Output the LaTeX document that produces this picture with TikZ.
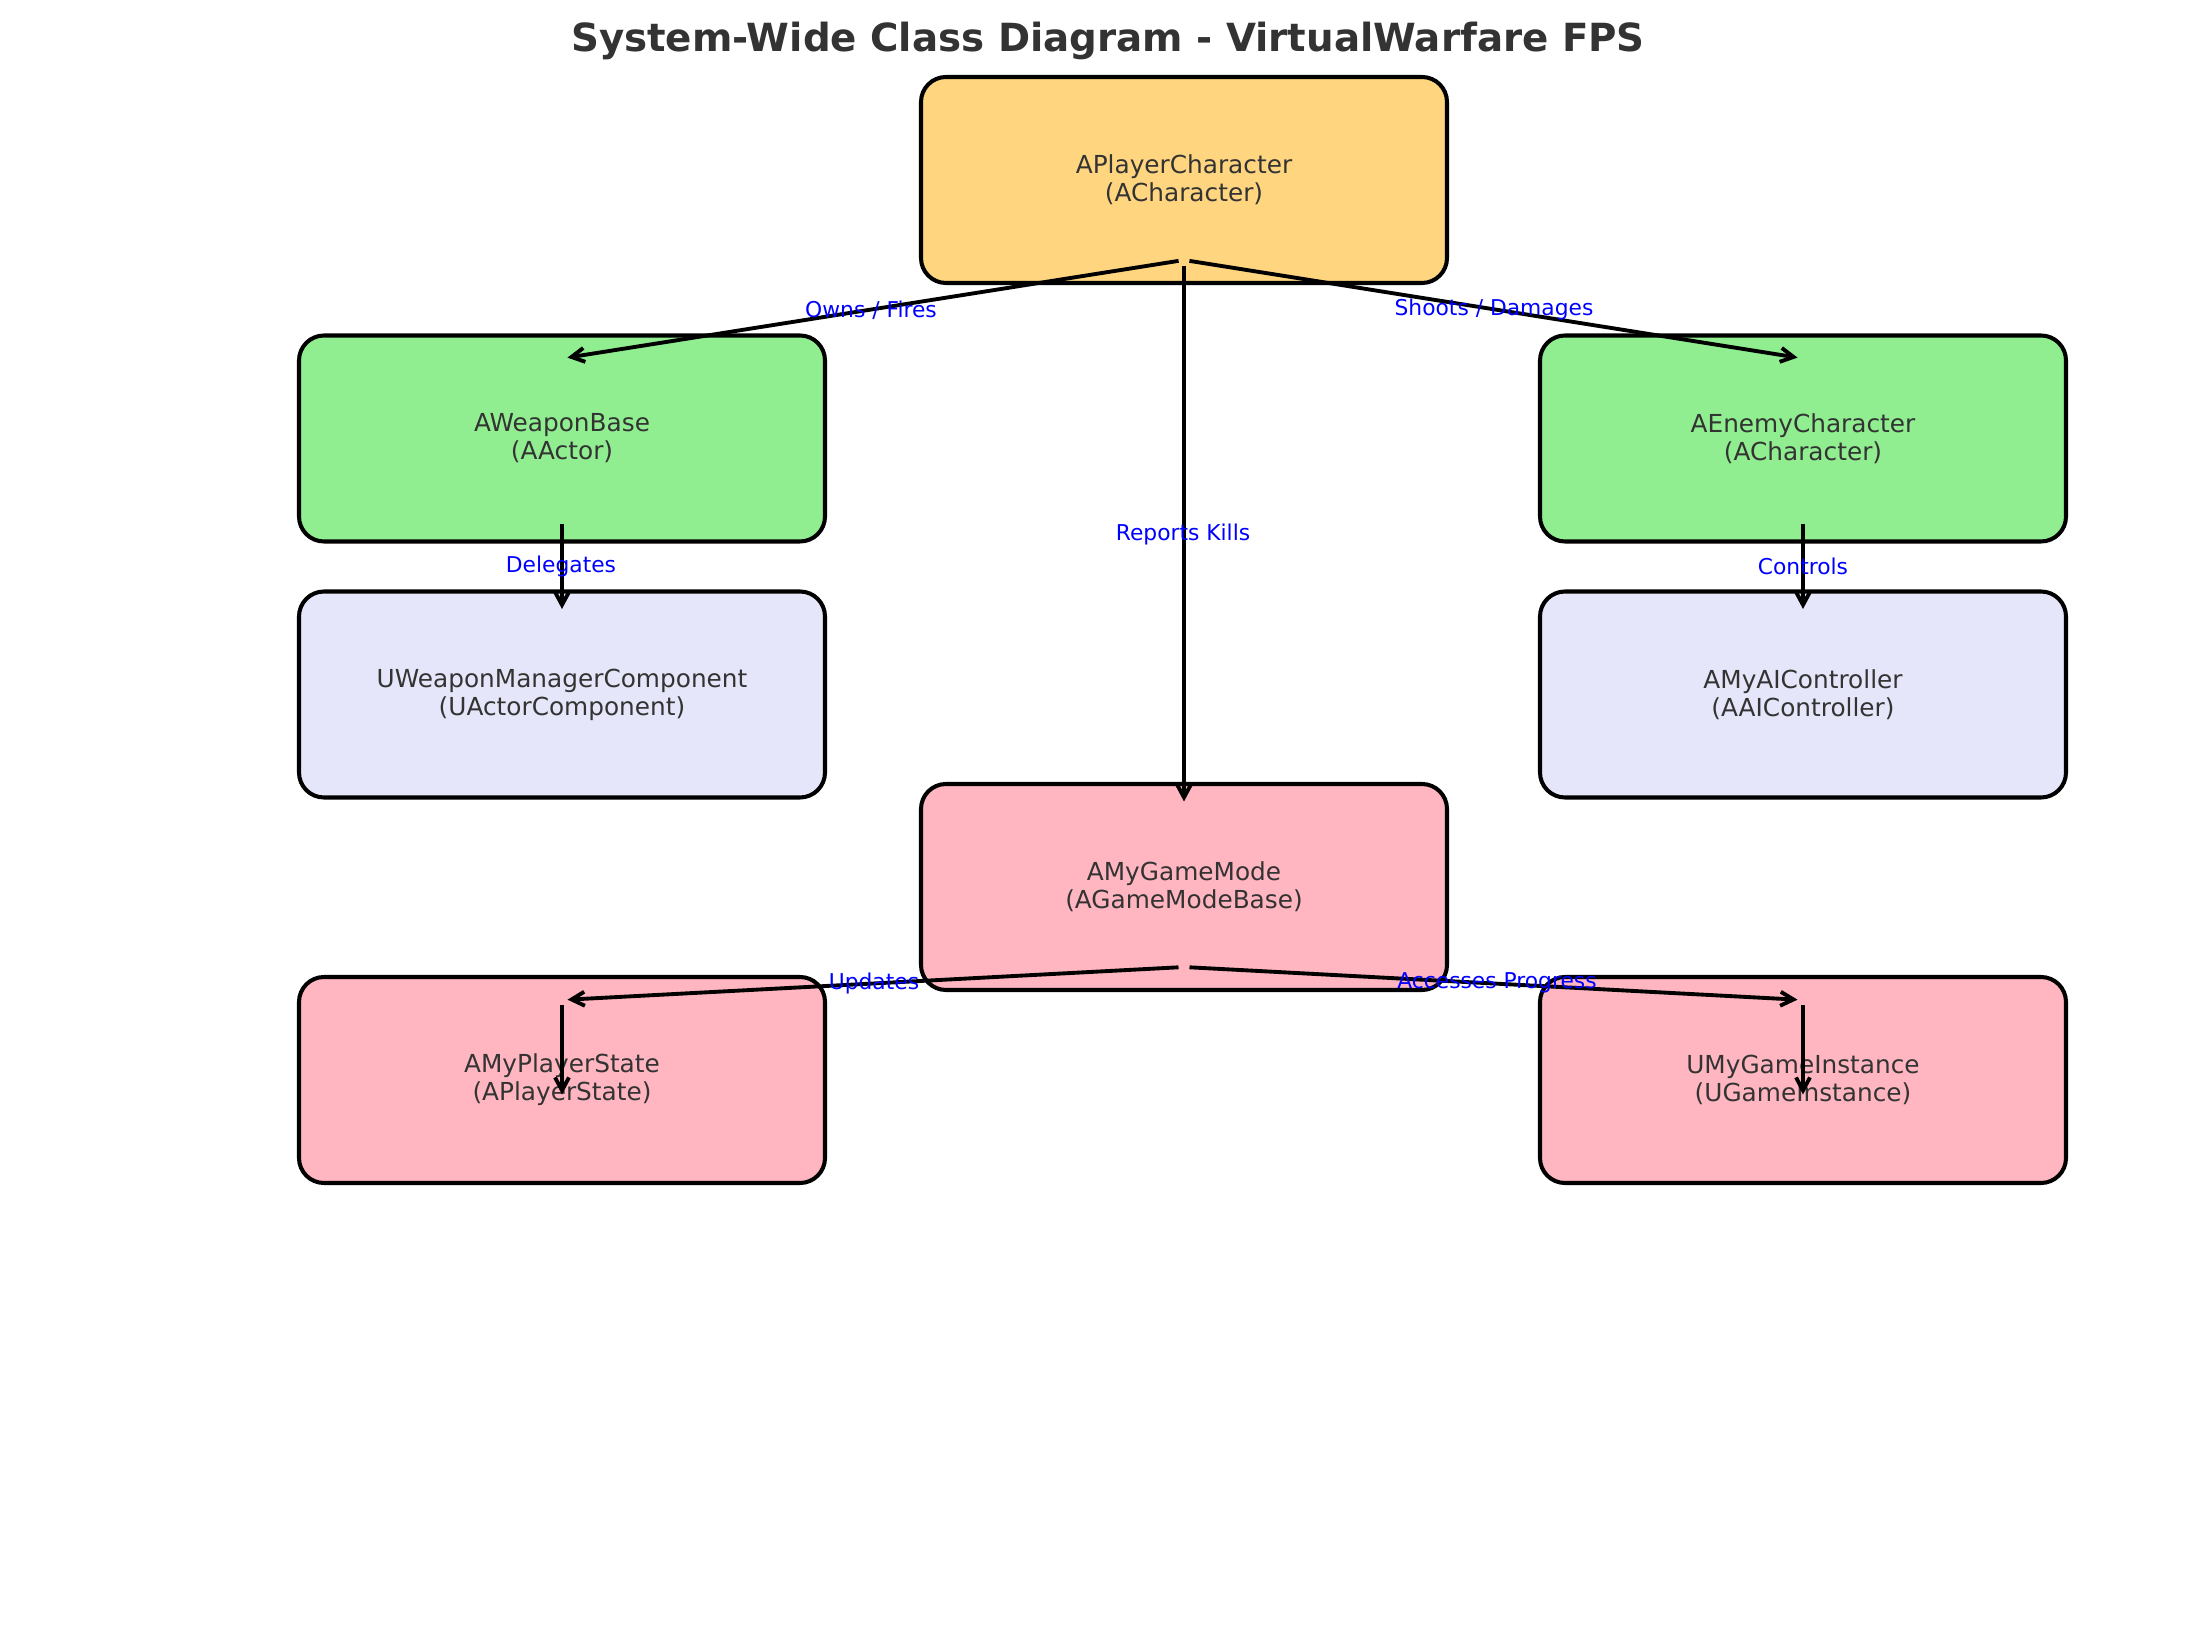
\documentclass[tikz,border=0pt]{standalone}
\usepackage{fontspec}
\setmainfont{DejaVu Sans}
\usepackage{xcolor}
\usetikzlibrary{arrows.meta}
\definecolor{pcorange}{HTML}{FFD580}
\definecolor{actgreen}{HTML}{90EE90}
\definecolor{complav}{HTML}{E6E6FA}
\definecolor{gmpink}{HTML}{FFB6C1}
\definecolor{txtgray}{HTML}{333333}

\begin{document}
\begin{tikzpicture}[
  classbox/.style={draw=black, line width=1.15pt, rounded corners=0.25cm, minimum width=5.26cm, minimum height=2.06cm, text=txtgray, align=center, font=\fontsize{7.05}{7.97}\selectfont, inner sep=0pt},
  relarrow/.style={-{Straight Barb[length=1.3mm,width=1.4mm]}, line width=1.1pt, shorten <=0.055cm, shorten >=0.055cm},
  rellabel/.style={text=blue, font=\fontsize{6.2}{7}\selectfont, inner sep=0pt}]
\useasboundingbox (0,0) rectangle (22.10,-16.26);
\node[text=txtgray, font=\fontsize{11.03}{13}\selectfont\bfseries] (title) at (11.08,-0.41) {System-Wide Class Diagram - VirtualWarfare FPS};
\node[classbox, fill=pcorange] (pc) at (11.84,-1.80) {APlayerCharacter\\(ACharacter)};
\node[classbox, fill=actgreen] (wb) at (5.62,-4.385) {AWeaponBase\\(AActor)};
\node[classbox, fill=actgreen] (ec) at (18.03,-4.385) {AEnemyCharacter\\(ACharacter)};
\node[classbox, fill=complav] (wm) at (5.62,-6.945) {UWeaponManagerComponent\\(UActorComponent)};
\node[classbox, fill=complav] (ai) at (18.03,-6.945) {AMyAIController\\(AAIController)};
\node[classbox, fill=gmpink] (gm) at (11.84,-8.87) {AMyGameMode\\(AGameModeBase)};
\node[classbox, fill=gmpink] (ps) at (5.62,-10.80) {AMyPlayerState\\(APlayerState)};
\node[classbox, fill=gmpink] (gi) at (18.03,-10.80) {UMyGameInstance\\(UGameInstance)};
\draw[relarrow] ([yshift=0.25cm]pc.south) -- ([yshift=-0.25cm]wb.north);
\draw[relarrow] ([yshift=0.25cm]pc.south) -- ([yshift=-0.25cm]ec.north);
\draw[relarrow] ([yshift=0.25cm]pc.south) -- ([yshift=-0.25cm]gm.north);
\draw[relarrow] ([yshift=0.25cm]wb.south) -- ([yshift=-0.25cm]wm.north);
\draw[relarrow] ([yshift=0.25cm]ec.south) -- ([yshift=-0.25cm]ai.north);
\draw[relarrow] ([yshift=0.25cm]gm.south) -- ([yshift=-0.25cm]ps.north);
\draw[relarrow] ([yshift=0.25cm]gm.south) -- ([yshift=-0.25cm]gi.north);
\draw[relarrow] ([yshift=-0.25cm]ps.north) -- ([yshift=-0.2cm]ps.center);
\draw[relarrow] ([yshift=-0.25cm]gi.north) -- ([yshift=-0.2cm]gi.center);
\node[rellabel] (owns) at (8.71,-3.10) {Owns / Fires};
\node[rellabel] (shoots) at (14.94,-3.09) {Shoots / Damages};
\node[rellabel] (kills) at (11.83,-5.34) {Reports Kills};
\node[rellabel] (deleg) at (5.61,-5.66) {Delegates};
\node[rellabel] (ctrl) at (18.03,-5.66) {Controls};
\node[rellabel] (upd) at (8.74,-9.83) {Updates};
\node[rellabel] (acc) at (14.97,-9.83) {Accesses Progress};
\end{tikzpicture}
\end{document}
